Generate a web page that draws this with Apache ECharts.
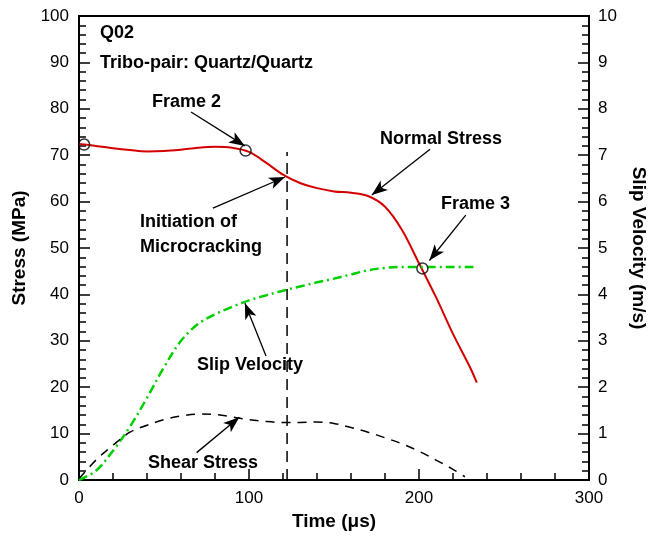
<!DOCTYPE html>
<html>
<head>
<meta charset="utf-8">
<script src="https://cdn.jsdelivr.net/npm/echarts@6/dist/echarts.min.js"></script>
<style>
html, body { margin: 0; padding: 0; background: #fff; }
#chart { width: 653px; height: 536px; }
</style>
</head>
<body>
<div id="chart"></div>
<script>
// normal stress (MPa) vs time (us)
const normalTime = [0, 10, 20, 30, 40, 50, 60, 70, 80, 90, 100, 110, 120, 130, 140, 150, 160, 170, 180, 190, 200, 210, 220, 230, 234]
const normalStress = [72.4, 72.0, 71.5, 71.1, 70.8, 70.9, 71.2, 71.6, 71.8, 71.6, 70.7, 68.4, 65.8, 64.0, 62.9, 62.2, 61.9, 61.2, 58.9, 53.9, 46.7, 39.4, 31.5, 24.3, 21.0]

// slip velocity (m/s)
const slipTime = [0, 10, 20, 30, 40, 50, 60, 70, 80, 90, 100, 110, 120, 130, 140, 150, 160, 170, 180, 190, 200, 210, 220, 232]
const slipVelocity = [0, 0.2, 0.63, 1.15, 1.77, 2.43, 3.0, 3.36, 3.57, 3.73, 3.87, 3.98, 4.08, 4.17, 4.26, 4.34, 4.43, 4.52, 4.57, 4.59, 4.59, 4.59, 4.59, 4.59]

// shear stress (MPa)
const shearTime = [0, 10, 20, 30, 40, 50, 60, 70, 80, 90, 100, 110, 120, 130, 140, 150, 160, 170, 180, 190, 200, 210, 220, 227]
const shearStress = [0.3, 4.3, 7.5, 10.3, 11.8, 13.0, 13.8, 14.2, 14.1, 13.6, 13.0, 12.6, 12.4, 12.4, 12.5, 12.2, 11.3, 10.3, 9.1, 7.8, 6.2, 4.3, 2.3, 0.7]

// frames marked with circles
const frameTime = [3, 98, 202]
const frameStress = [72.3, 71.0, 45.6]

// initiation of microcracking
const initTime = 122.4
const initTop = 70.7

// annotation arrows: [fromX, fromY, toX, toY] in data units (time, MPa)
const arrows = [
  [65.9, 79.3, 97.6, 72.0],
  [78.8, 58.6, 121.2, 65.3],
  [206.5, 71.3, 172.2, 61.4],
  [227.5, 57.1, 206.1, 47.3],
  [110, 26.7, 97.6, 38.1],
  [69.2, 5.9, 94.3, 13.5]
]

const zip = (xs, ys) => xs.map((x, i) => [x, ys[i]])
const FONT = 'Liberation Sans, Arial, sans-serif'
const boldText = (text, x, y) => ({
  type: 'text', x: x, y: y, z: 100,
  style: { text: text, fill: '#000', font: 'bold 18px ' + FONT, verticalAlign: 'middle' }
})

const axisCommon = {
  axisLine: { show: true, lineStyle: { color: '#000', width: 2 } },
  axisTick: { show: true, inside: true, length: 11, lineStyle: { color: '#000', width: 1.5 } },
  minorTick: { show: true, splitNumber: 5, length: 7, lineStyle: { color: '#000', width: 1.5 } },
  splitLine: { show: false },
  minorSplitLine: { show: false },
  axisLabel: { color: '#000', fontFamily: FONT, fontSize: 17 },
  nameTextStyle: { color: '#000', fontFamily: FONT, fontSize: 19, fontWeight: 'bold' }
}

const options = {
  animation: false,
  backgroundColor: '#fff',
  grid: {
    left: 79, right: 64, top: 16, bottom: 56,
    outerBoundsMode: 'none', containLabel: false,
    show: true, borderColor: '#000', borderWidth: 2
  },
  xAxis: {
    ...axisCommon,
    type: 'value', min: 0, max: 300, interval: 100,
    name: 'Time (\u03bcs)', nameLocation: 'middle', nameGap: 32,
    axisLabel: { ...axisCommon.axisLabel, margin: 10 }
  },
  yAxis: [
    {
      ...axisCommon,
      type: 'value', min: 0, max: 100, interval: 10,
      name: 'Stress (MPa)', nameLocation: 'middle', nameGap: 47,
      axisLabel: { ...axisCommon.axisLabel, margin: 10 }
    },
    {
      ...axisCommon,
      type: 'value', min: 0, max: 10, interval: 1, position: 'right',
      name: 'Slip Velocity (m/s)', nameLocation: 'middle', nameGap: 40, nameRotate: -90,
      axisLabel: { ...axisCommon.axisLabel, margin: 9 }
    }
  ],
  series: [
    {
      name: 'Normal Stress', type: 'line', yAxisIndex: 0,
      data: zip(normalTime, normalStress), smooth: 0.35, showSymbol: false,
      lineStyle: { color: '#d40000', width: 2 },
      markLine: {
        silent: true,
        symbol: ['none', 'arrow'],
        symbolSize: [9, 16],
        label: { show: false },
        lineStyle: { color: '#000', width: 1.3, type: 'solid' },
        data: arrows.map(a => [
          { coord: [a[0], a[1]], symbol: 'none' },
          { coord: [a[2], a[3]], symbol: 'arrow' }
        ])
      }
    },
    {
      name: 'Slip Velocity', type: 'line', yAxisIndex: 1,
      data: zip(slipTime, slipVelocity), smooth: 0.35, showSymbol: false,
      lineStyle: { color: '#00d000', width: 2.5, type: [9, 4, 2, 4] }
    },
    {
      name: 'Shear Stress', type: 'line', yAxisIndex: 0,
      data: zip(shearTime, shearStress), smooth: 0.35, showSymbol: false,
      lineStyle: { color: '#000', width: 1.5, type: [9, 7] }
    },
    {
      name: 'Initiation', type: 'line', yAxisIndex: 0,
      data: [[initTime, 0], [initTime, initTop]], showSymbol: false,
      lineStyle: { color: '#000', width: 1.5, type: [11, 7] }
    },
    {
      name: 'Frames', type: 'scatter', yAxisIndex: 0, z: 5,
      data: zip(frameTime, frameStress), symbol: 'circle', symbolSize: 11,
      itemStyle: { color: 'rgba(0,0,0,0)', borderColor: '#000', borderWidth: 1.5 }
    }
  ],
  graphic: [
    boldText('Q02', 100, 33),
    boldText('Tribo-pair: Quartz/Quartz', 100, 63),
    boldText('Frame 2', 152, 102),
    boldText('Initiation of', 140, 222),
    boldText('Microcracking', 140, 247),
    boldText('Normal Stress', 380, 139),
    boldText('Frame 3', 441, 204),
    boldText('Slip Velocity', 197, 365),
    boldText('Shear Stress', 148, 463)
  ]
}

const chart = echarts.init(document.getElementById('chart'))
chart.setOption(options)
window.addEventListener('resize', function () {
  chart && chart.resize()
})
</script>
</body>
</html>
